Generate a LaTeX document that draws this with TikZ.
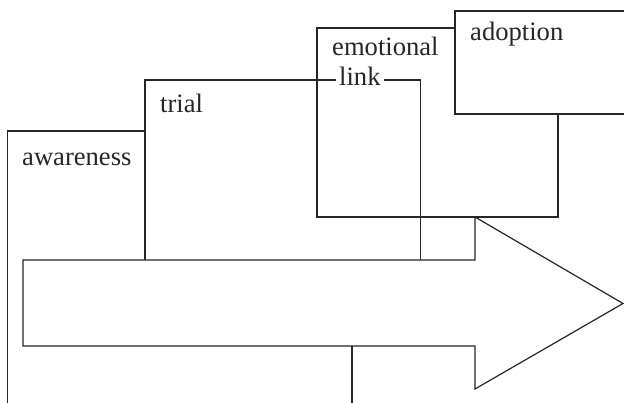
\documentclass[tikz,border=0pt]{standalone}
\usepackage{fontspec}
\setmainfont{Liberation Serif}
\begin{document}
\begin{tikzpicture}[x=1pt,y=-1pt,
  boxline/.style={line width=1.2pt,draw=black!85,line join=miter},
  lbl/.style={anchor=base west,inner sep=0pt,font=\fontsize{26.6}{30}\selectfont,text=black!85}]
\useasboundingbox (0,0) rectangle (624,403);
\begin{scope}
\clip (0,0) rectangle (624,403);
% awareness box
\draw[boxline,fill=white] (7.5,131) rectangle (352,420);
% trial box
\draw[boxline,fill=white] (145,80) rectangle (420.5,300);
% emotional link box (outline only)
\draw[boxline] (317,28) rectangle (558,217);
% adoption box
\draw[boxline,fill=white] (455,11) rectangle (640,114);
% arrow
\draw[boxline,fill=white] (23,260) -- (475,260) -- (475,217) -- (623,303.5) -- (475,389) -- (475,346) -- (23,346) -- cycle;
\end{scope}
\node[lbl] (aw) at (22,166) {awareness};
\node[lbl] (tr) at (160,113) {trial};
\node[lbl] (em) at (332,56) {emotional};
\node[lbl,fill=white,inner xsep=3.5pt] (lk) at (335.5,86) {link};
\node[lbl] (ad) at (470,41) {adoption};
\end{tikzpicture}
\end{document}
